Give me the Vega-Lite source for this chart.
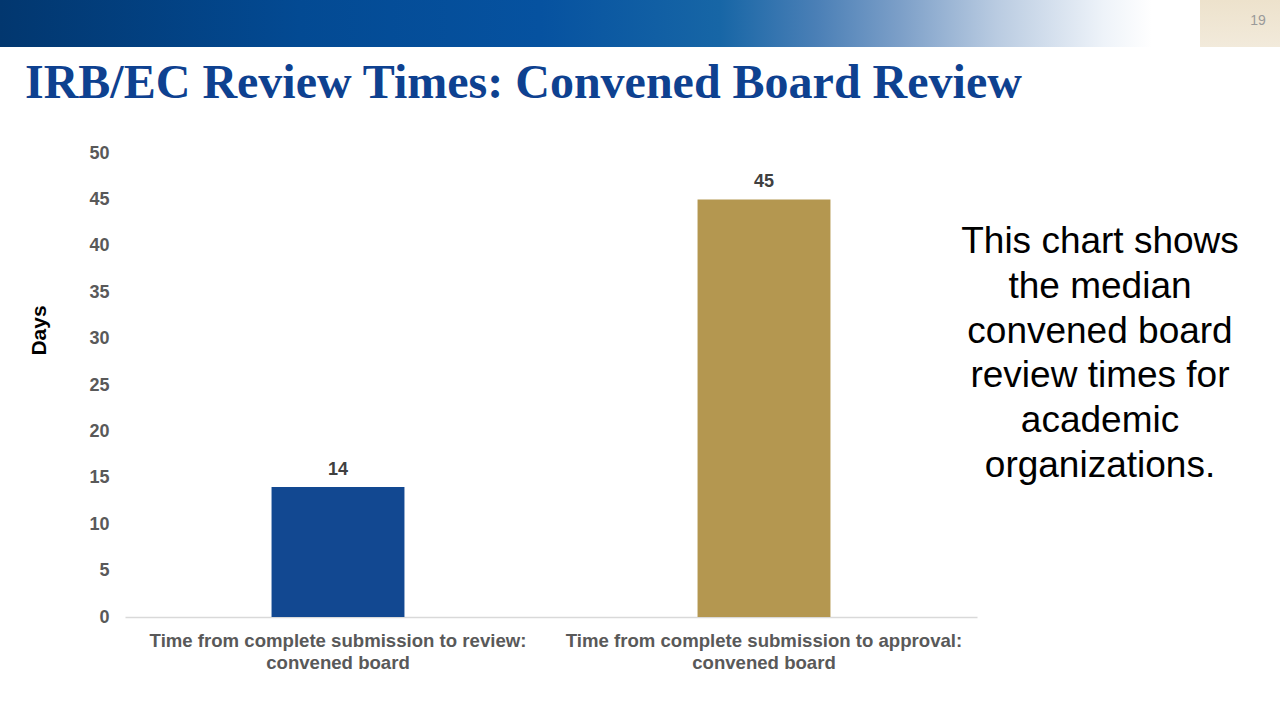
{
  "$schema": "https://vega.github.io/schema/vega-lite/v6.json",
  "padding": 0,
  "background": "white",
  "config": {"view": {"stroke": null}, "font": "Liberation Sans"},
  "spacing": 13,
  "vconcat": [
    {
      "spacing": 0,
      "hconcat": [
        {
          "width": 1200,
          "height": 47,
          "data": {"values": [{"part": "banner"}]},
          "mark": {
            "type": "rect",
            "fill": {
              "gradient": "linear", "x1": 0, "y1": 0, "x2": 1, "y2": 0,
              "stops": [
                {"offset": 0, "color": "#02376f"},
                {"offset": 0.25, "color": "#034a93"},
                {"offset": 0.45, "color": "#0652a0"},
                {"offset": 0.6, "color": "#1766a6"},
                {"offset": 0.68, "color": "#4a7fb6"},
                {"offset": 0.75, "color": "#7c9fc8"},
                {"offset": 0.83, "color": "#b9cbe1"},
                {"offset": 0.92, "color": "#eef3f9"},
                {"offset": 0.96, "color": "#ffffff"},
                {"offset": 1, "color": "#ffffff"}
              ]
            }
          },
          "encoding": {}
        },
        {
          "width": 80,
          "height": 47,
          "data": {"values": [{"page": "19"}]},
          "layer": [
            {
              "mark": {
                "type": "rect",
                "fill": {
                  "gradient": "linear", "x1": 0, "y1": 0, "x2": 0, "y2": 1,
                  "stops": [
                    {"offset": 0, "color": "#ede2cc"},
                    {"offset": 1, "color": "#f2eadb"}
                  ]
                }
              },
              "encoding": {}
            },
            {
              "mark": {"type": "text", "fontSize": 14, "color": "#9a9a9a", "dx": 18, "dy": -3},
              "encoding": {"text": {"field": "page"}}
            }
          ]
        }
      ]
    },
    {
      "title": {
        "text": "IRB/EC Review Times: Convened Board Review",
        "anchor": "start",
        "dx": 25,
        "offset": 36,
        "font": "Liberation Serif",
        "fontSize": 48,
        "fontWeight": "bold",
        "color": "#0E4190"
      },
      "bounds": "flush",
      "spacing": 0,
      "hconcat": [
        {
          "width": 125,
          "height": 464,
          "data": {"values": [{"spacer": ""}]},
          "mark": {"type": "text"},
          "encoding": {"text": {"field": "spacer"}}
        },
        {
          "width": 852,
          "height": 464,
          "data": {"values": [
            {"measure": "Time from complete submission to review: convened board", "days": 14},
            {"measure": "Time from complete submission to approval: convened board", "days": 45}
          ]},
          "encoding": {
            "x": {
              "field": "measure", "type": "nominal", "sort": null,
              "scale": {"paddingInner": 0, "paddingOuter": 0},
              "axis": {
                "title": null, "labelAngle": 0, "labelFontSize": 18.6, "labelFontWeight": "bold",
                "labelColor": "#595959", "labelPadding": 14, "labelLineHeight": 22, "ticks": false,
                "domainColor": "#d9d9d9", "domainWidth": 1.3, "labelLimit": 600, "grid": false,
                "labelExpr": "[slice(datum.label, 0, indexof(datum.label, ': ') + 1), slice(datum.label, indexof(datum.label, ': ') + 2)]"
              }
            },
            "y": {
              "field": "days", "type": "quantitative",
              "scale": {"domain": [0, 50], "nice": false},
              "axis": {
                "values": [0, 5, 10, 15, 20, 25, 30, 35, 40, 45, 50],
                "title": "Days", "titleFontSize": 21, "titleFontWeight": "bold", "titleColor": "#000000",
                "titlePadding": 39, "titleY": 177,
                "labelFontSize": 18, "labelFontWeight": "bold", "labelColor": "#595959", "labelPadding": 16,
                "ticks": false, "domain": false, "grid": false
              }
            }
          },
          "layer": [
            {
              "mark": {"type": "bar", "width": {"band": 0.312}},
              "encoding": {
                "color": {
                  "field": "measure", "type": "nominal",
                  "scale": {
                    "domain": ["Time from complete submission to review: convened board", "Time from complete submission to approval: convened board"],
                    "range": ["#124891", "#B49750"]
                  },
                  "legend": null
                }
              }
            },
            {
              "mark": {"type": "text", "baseline": "bottom", "dy": -8, "fontSize": 18, "fontWeight": "bold", "color": "#404040"},
              "encoding": {"text": {"field": "days", "type": "quantitative"}}
            }
          ]
        },
        {
          "width": 246,
          "height": 464,
          "data": {"values": [
            {"line": 1, "text": "This chart shows"},
            {"line": 2, "text": "the median"},
            {"line": 3, "text": "convened board"},
            {"line": 4, "text": "review times for"},
            {"line": 5, "text": "academic"},
            {"line": 6, "text": "organizations."}
          ]},
          "mark": {"type": "text", "fontSize": 37, "color": "#000000", "align": "center", "baseline": "middle"},
          "encoding": {
            "y": {"field": "line", "type": "quantitative", "axis": null, "scale": {"domain": [-0.99, 9.37], "reverse": true, "nice": false, "zero": false}},
            "text": {"field": "text"}
          }
        }
      ]
    }
  ]
}
